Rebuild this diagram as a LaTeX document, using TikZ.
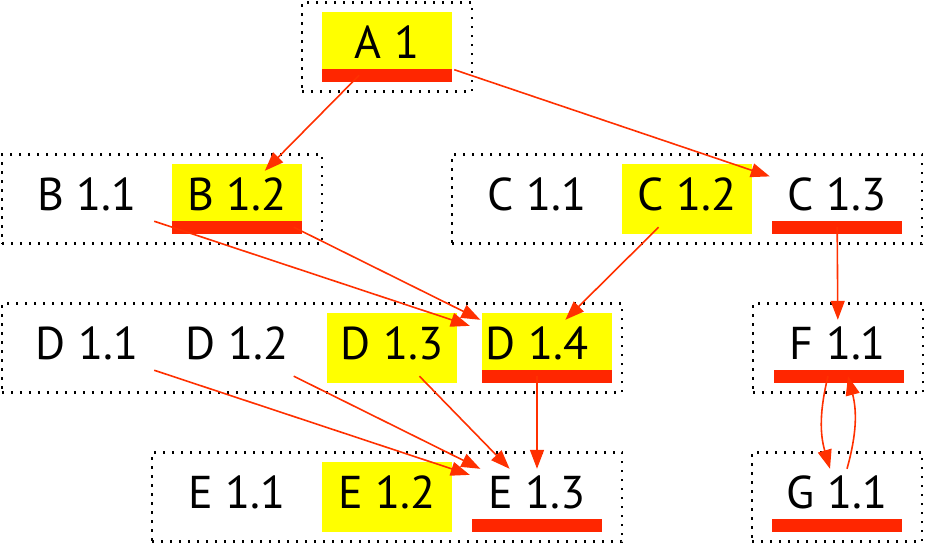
\documentclass[tikz,border=0pt]{standalone}
\usepackage{fontspec}
\newfontfamily\cellfont{PT Sans}
\usetikzlibrary{arrows.meta,fit}
\definecolor{hlyellow}{RGB}{255,255,0}
\definecolor{barred}{RGB}{255,38,0}
\definecolor{linkred}{RGB}{255,48,0}

\begin{document}
\begin{tikzpicture}[x=1pt,y=-1pt,
    cell/.style={inner sep=0pt,minimum width=134pt,minimum height=56pt,
        text height=34pt,text depth=12pt,font={\cellfont\fontsize{46}{52}\selectfont}},
    group/.style={draw,line width=2.5pt,dash pattern=on 2.5pt off 6.5pt,
        inner xsep=18pt,inner ysep=16.5pt},
    link/.style={draw=linkred,line width=1.6pt,-{Triangle[length=19pt,width=14pt]}}]
    \useasboundingbox (0,0) rectangle (926,544);

    % yellow cells and red bars
    \foreach \x/\y in {322/12,172/164,482/313}
        \fill[hlyellow] (\x,\y) rectangle +(130,57);
    \foreach \x/\y in {622/164,327/313,322/462}
        \fill[hlyellow] (\x,\y) rectangle +(130,70);
    \foreach \x/\y in {322/12,172/164,772/164,482/313,774/313,472/462,772/462}
        \fill[barred] (\x,\y+57) rectangle +(130,13);

    \node[cell] (a1) at (387,47) {A 1};
    \node[cell] (b11) at (87,199) {B 1.1};
    \node[cell] (b12) at (237,199) {B 1.2};
    \node[cell] (c11) at (537,199) {C 1.1};
    \node[cell] (c12) at (687,199) {C 1.2};
    \node[cell] (c13) at (837,199) {C 1.3};
    \node[cell] (d11) at (87,348) {D 1.1};
    \node[cell] (d12) at (237,348) {D 1.2};
    \node[cell] (d13) at (392,348) {D 1.3};
    \node[cell] (d14) at (537,348) {D 1.4};
    \node[cell] (f11) at (838,348) {F 1.1};
    \node[cell] (e11) at (237,497) {E 1.1};
    \node[cell] (e12) at (387,497) {E 1.2};
    \node[cell] (e13) at (537,497) {E 1.3};
    \node[cell] (g11) at (837,497) {G 1.1};

    \node[group,fit=(a1)] (ga) {};
    \node[group,fit=(b11)(b12)] (gb) {};
    \node[group,fit=(c11)(c13)] (gc) {};
    \node[group,fit=(d11)(d14)] (gd) {};
    \node[group,fit=(f11)] (gf) {};
    \node[group,fit=(e11)(e13)] (ge) {};
    \node[group,fit=(g11)] (gg) {};

    \draw[link] (a1) -- (b12);
    \draw[link] (a1) -- (c13);
    \draw[link] (b11) -- (d14);
    \draw[link] (b12) -- (d14);
    \draw[link] (c12) -- (d14);
    \draw[link] (c13) -- (f11);
    \draw[link] (d11) -- (e13);
    \draw[link] (d12) -- (e13);
    \draw[link] (d13) -- (e13);
    \draw[link] (d14) -- (e13);
    \draw[link] ([xshift=-10pt]f11.south) to[bend right=15] ([xshift=-7pt]g11.north);
    \draw[link] ([xshift=10pt]g11.north) to[bend right=15] ([xshift=10pt]f11.south);
\end{tikzpicture}
\end{document}
